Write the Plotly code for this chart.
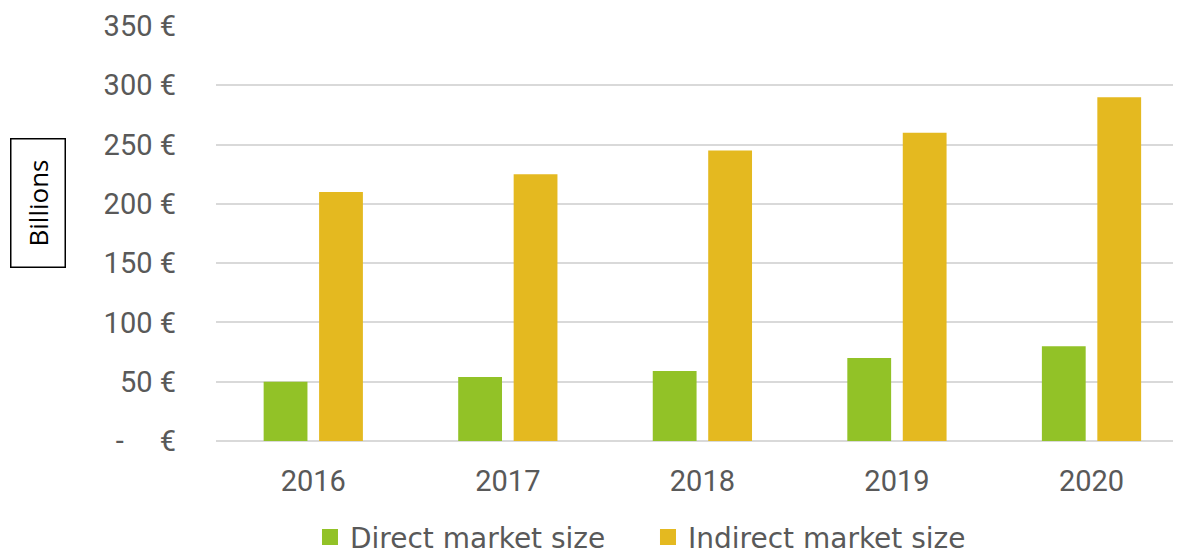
import plotly.graph_objects as go

years = ["2016", "2017", "2018", "2019", "2020"]
direct = [50, 54, 59, 70, 80]
indirect = [210, 225, 245, 260, 290]
series_names = ["Direct market size", "Indirect market size"]
y_tickvals = [0, 50, 100, 150, 200, 250, 300, 350]
y_ticktext = ["-\u00a0\u00a0\u00a0\u00a0\u00a0€", "50 €", "100 €", "150 €", "200 €", "250 €", "300 €", "350 €"]

GREEN = "#92C227"
YELLOW = "#E4B920"
TXT = "#595959"
FONT = "Roboto"

# page body has an 8px margin: figure is sized to fit the window after it
W, H = 1173, 547
ML, MT = 208, 18
PLOT_H = 415

fig = go.Figure()
fig.add_trace(go.Bar(x=years, y=direct, name=series_names[0], showlegend=False,
                     marker=dict(color=GREEN, line=dict(width=0))))
fig.add_trace(go.Bar(x=years, y=indirect, name=series_names[1], showlegend=False,
                     marker=dict(color=YELLOW, line=dict(width=0))))
# legend entries with larger square swatches
for nm, col in zip(series_names, [GREEN, YELLOW]):
    fig.add_trace(go.Scatter(x=[None], y=[None], mode="markers", name=nm,
                             marker=dict(symbol="square", size=16, color=col)))

fig.update_layout(
    width=W, height=H,
    margin=dict(l=ML, r=0, t=MT, b=H - MT - PLOT_H, autoexpand=False),
    paper_bgcolor="white", plot_bgcolor="white",
    barmode="group", bargap=0.43, bargroupgap=0.21,
    font=dict(family=FONT, color=TXT, size=29),
    showlegend=True,
    legend=dict(orientation="h", x=0.0974, xanchor="left", y=-0.232, yanchor="middle",
                font=dict(family="DejaVu Sans", size=28, color=TXT),
                itemsizing="trace", entrywidth=293, itemwidth=30, maxheight=200,
                bgcolor="rgba(0,0,0,0)"),
    xaxis=dict(type="category", range=[-0.5, 4.46], showgrid=False, showline=False,
               zeroline=False, ticks="", ticklabelstandoff=20,
               tickfont=dict(family=FONT, size=29, color=TXT)),
    yaxis=dict(range=[0, 350], tickvals=y_tickvals, ticktext=y_ticktext,
               showgrid=True, gridcolor="#D9D9D9", gridwidth=1.5,
               zeroline=True, zerolinecolor="#D9D9D9", zerolinewidth=1.5,
               showline=False, ticks="", ticklabelstandoff=39,
               tickfont=dict(family=FONT, size=29, color=TXT)),
    annotations=[dict(text="Billions", xref="paper", yref="paper",
                      x=(37.5 - 216) / 965, y=(441 - 203.5) / 415,
                      xanchor="center", yanchor="middle", showarrow=False,
                      textangle=-90, width=127, height=53, borderpad=0,
                      bordercolor="black", borderwidth=1.5,
                      font=dict(family="Open Sans", size=26, color="black"))],
)

fig.write_html("out.html")
